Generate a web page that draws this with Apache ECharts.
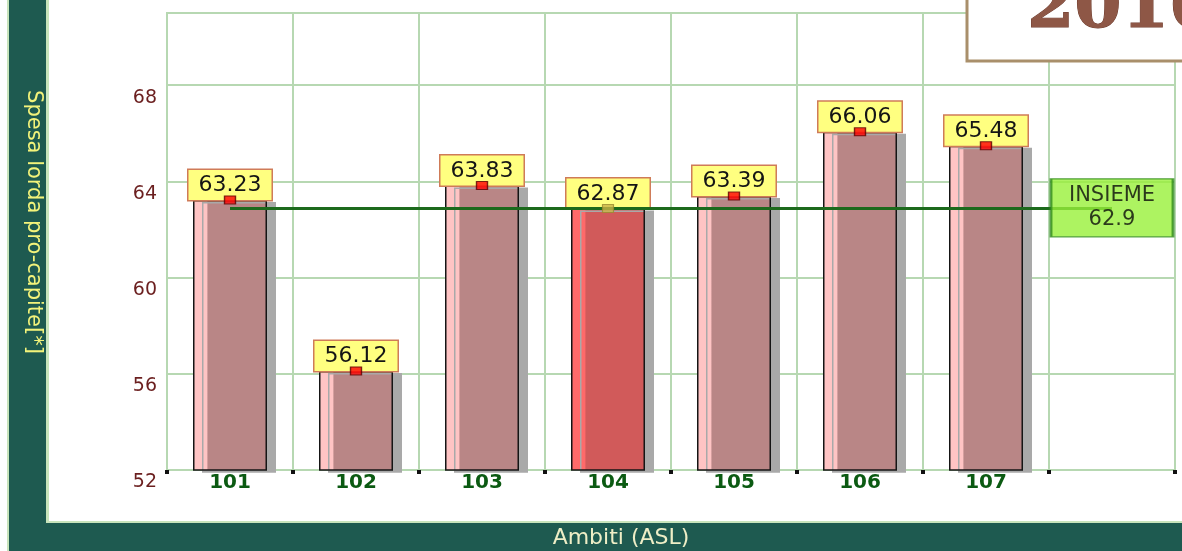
<!DOCTYPE html>
<html>
<head>
<meta charset="utf-8">
<script src="https://cdn.jsdelivr.net/npm/echarts@6/dist/echarts.min.js"></script>
<style>
html,body{margin:0;padding:0;background:#fff;}
#chart{width:1182px;height:551px;}
</style>
</head>
<body>
<div id="chart"></div>
<script>
const categories = ['101', '102', '103', '104', '105', '106', '107', ''];
const values = [63.23, 56.12, 63.83, 62.87, 63.39, 66.06, 65.48];
const overallValue = 62.9;
const overallName = 'INSIEME';
const highlightIndex = 3;
const yTicks = [52, 56, 60, 64, 68];
const yMin = 52, yMax = 71, yStep = 4;
const yAxisTitle = 'Spesa lorda pro-capite[*]';
const xAxisTitle = 'Ambiti (ASL)';
const yearTitle = '2016';

const chart = echarts.init(document.getElementById('chart'));

function barFill(hi) {
  const light = hi ? '#ff6a6a' : '#ffc4c4';
  const main = hi ? '#d15a5a' : '#b98686';
  return {
    type: 'linear', x: 0, y: 0, x2: 1, y2: 0,
    colorStops: [
      { offset: 0, color: light }, { offset: 0.19, color: light },
      { offset: 0.2, color: main }, { offset: 1, color: main }
    ]
  };
}

const gridColor = '#b7d8b2';
const teal = '#1e5a50';
const pale = '#c8e4bb';

const option = {
  animation: false,
  backgroundColor: '#ffffff',
  grid: {
    left: 167, right: 7, top: 13, bottom: 81,
    show: true, borderColor: gridColor, borderWidth: 2
  },
  xAxis: {
    type: 'category',
    data: categories,
    boundaryGap: true,
    axisLine: { show: false },
    axisTick: { show: true, interval: 0, length: 4, lineStyle: { color: '#111', width: 4 } },
    axisLabel: {
      interval: 0, margin: 3,
      color: '#0b5a12', fontFamily: 'DejaVu Sans', fontWeight: 'bold', fontSize: 20
    },
    splitLine: { show: true, interval: 0, lineStyle: { color: gridColor, width: 2 } }
  },
  yAxis: {
    type: 'value',
    min: yMin, max: yMax, interval: yStep,
    axisLine: { show: false },
    axisTick: { show: false },
    axisLabel: {
      margin: 10, color: '#6b1f1f', fontFamily: 'DejaVu Sans', fontSize: 19,
      verticalAlign: 'top', lineHeight: 19, padding: [3, 0, 0, 0],
      formatter: v => yTicks.includes(v) ? String(v) : ''
    },
    splitLine: { show: true, lineStyle: { color: gridColor, width: 2 } }
  },
  series: [
    {
      type: 'bar',
      z: 2,
      barWidth: 74,
      data: values.map((v, i) => ({
        value: v,
        itemStyle: {
          color: barFill(i === highlightIndex),
          borderColor: '#151515', borderWidth: 1.5,
          shadowColor: '#a9a9a9', shadowOffsetX: 9, shadowOffsetY: 2, shadowBlur: 0
        }
      })),
      label: {
        show: true, position: 'top', distance: 0,
        formatter: p => p.value.toFixed(2),
        fontFamily: 'DejaVu Sans', fontSize: 22, lineHeight: 25, color: '#151515',
        backgroundColor: '#ffff80', borderColor: '#cf7b58', borderWidth: 1.5,
        padding: [3, 10, 2, 10]
      }
    },
    {
      type: 'line',
      z: 4,
      data: [],
      markLine: {
        silent: true,
        symbol: ['none', 'none'],
        label: { show: false },
        lineStyle: { color: '#1c6a1c', width: 3, type: 'solid' },
        data: [[{ coord: [0, overallValue] }, { coord: [categories.length - 1.5, overallValue] }]]
      }
    },
    {
      type: 'scatter',
      z: 5,
      symbol: 'rect',
      symbolSize: [11, 8],
      data: values.map((v, i) => ({
        value: [i, v],
        itemStyle: i === highlightIndex
          ? { color: '#c9b347', borderColor: '#9a8a30', borderWidth: 1 }
          : { color: '#ff0000', borderColor: '#5a0000', borderWidth: 1.2 }
      }))
    },
    {
      type: 'scatter',
      z: 6,
      symbol: 'rect',
      symbolSize: [122, 58],
      itemStyle: { color: '#99f03a', borderColor: '#2f8a1e', borderWidth: 2 },
      label: {
        show: true, position: 'inside',
        formatter: () => overallName + '\n' + overallValue,
        fontFamily: 'DejaVu Sans', fontSize: 21, lineHeight: 24, color: '#0a0a0a'
      },
      data: [[categories.length - 1, overallValue]]
    }
  ],
  graphic: [
    { type: 'rect', z: -10, shape: { x: 7, y: 0, width: 2, height: 551 }, style: { fill: pale } },
    { type: 'rect', z: -10, shape: { x: 9, y: 0, width: 38, height: 551 }, style: { fill: teal } },
    { type: 'rect', z: -10, shape: { x: 46, y: 0, width: 3, height: 524 }, style: { fill: pale } },
    { type: 'rect', z: -10, shape: { x: 9, y: 523, width: 1173, height: 28 }, style: { fill: teal } },
    { type: 'rect', z: -10, shape: { x: 46, y: 521, width: 1136, height: 2 }, style: { fill: pale } },
    {
      type: 'text', z: 10, x: 33, y: 222, rotation: -Math.PI / 2,
      style: {
        text: yAxisTitle, fill: '#f3f37a', font: '21px "DejaVu Sans"',
        align: 'center', verticalAlign: 'middle'
      }
    },
    {
      type: 'text', z: 10, x: 621, y: 538,
      style: {
        text: xAxisTitle, fill: '#eeeec6', font: '22px "DejaVu Sans"',
        align: 'center', verticalAlign: 'middle'
      }
    },
    {
      type: 'rect', z: 100, shape: { x: 967, y: -4, width: 230, height: 65 },
      style: { fill: '#ffffff', stroke: '#a98f6b', lineWidth: 3 }
    },
    {
      type: 'text', z: 101, x: 1027, y: 9,
      style: {
        text: yearTitle, fill: '#8e5746', stroke: '#6d3b2c', lineWidth: 1,
        font: 'bold 68px "DejaVu Serif"', align: 'left', verticalAlign: 'middle',
        shadowColor: 'rgba(0,0,0,0.35)', shadowOffsetX: 3, shadowOffsetY: 3, shadowBlur: 4
      }
    }
  ]
};
chart.setOption(option);
</script>
</body>
</html>
